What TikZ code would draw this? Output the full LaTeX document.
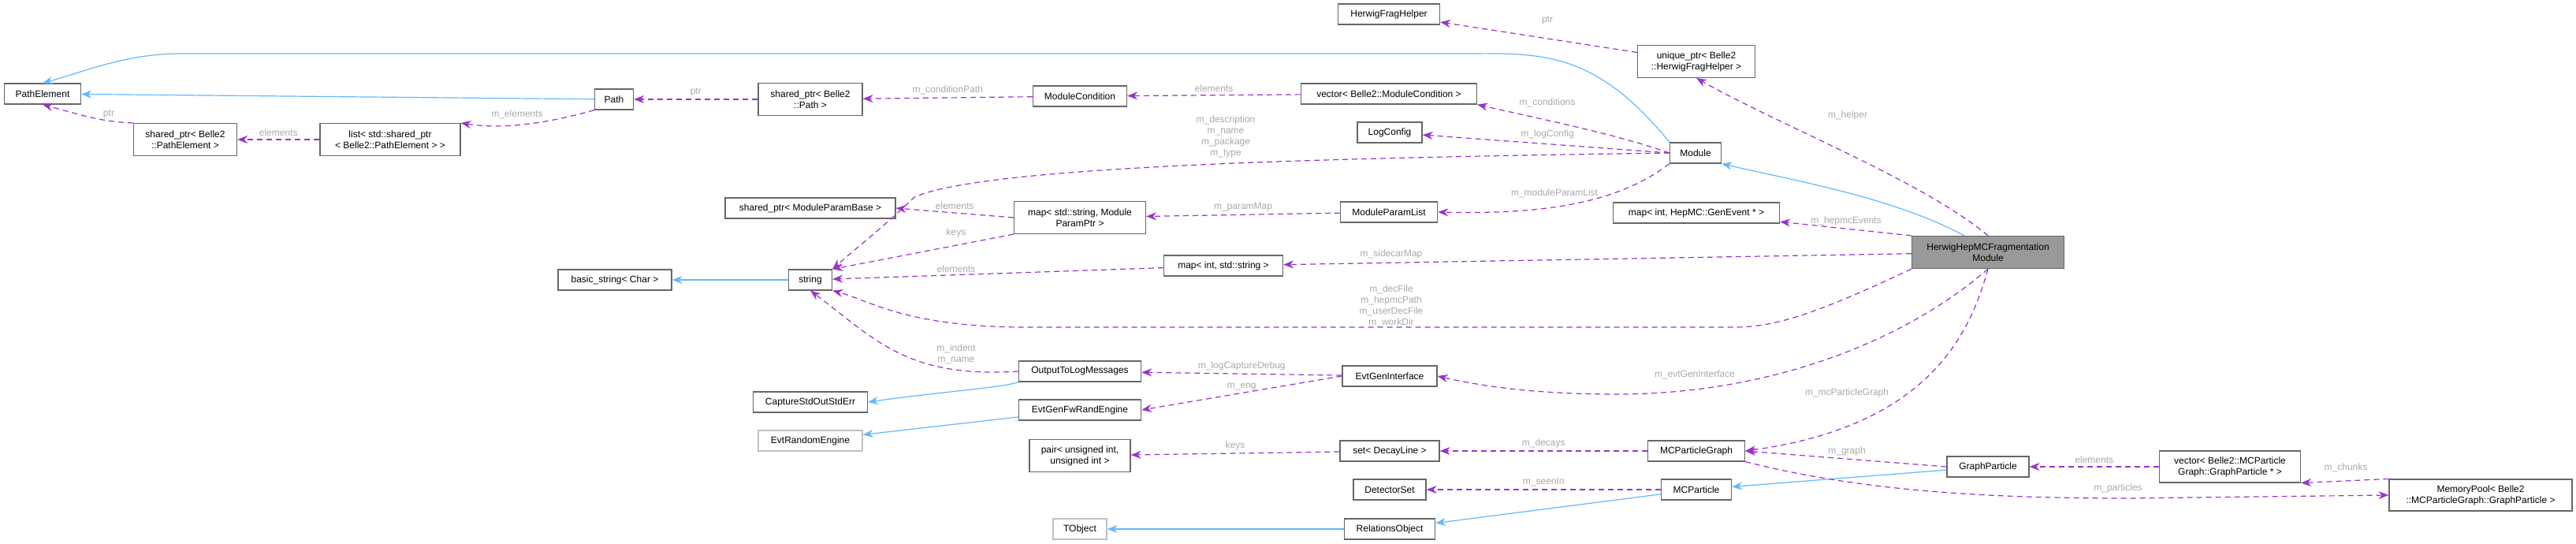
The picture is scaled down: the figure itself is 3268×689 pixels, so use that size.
\documentclass[tikz,border=0pt]{standalone}
\usepackage{fontspec}
\setmainfont{Liberation Sans}
\usetikzlibrary{arrows.meta}
\definecolor{inh}{HTML}{63B8FF}
\definecolor{use}{HTML}{9A32CD}
\definecolor{lbl}{HTML}{A8A8A8}
\definecolor{bd}{HTML}{666666}
\definecolor{gbd}{HTML}{BFBFBF}
\begin{document}
\begin{tikzpicture}[x=1pt,y=-1pt,
  every node/.style={font=\fontsize{12}{14}\selectfont},
  box/.style={draw=bd,line width=1.2pt,fill=white,align=center,inner sep=0pt,minimum height=26pt},
  gbox/.style={box,draw=gbd},
  inh/.style={draw=inh,line width=1.2pt,-{Stealth[length=13pt,width=10pt]}},
  use/.style={draw=use,line width=1.2pt,dash pattern=on 7pt off 5pt,-{Stealth[length=13pt,width=10pt]}},
  lb/.style={text=lbl,align=center}]
\useasboundingbox (0,0) rectangle (3268,689);
% nodes
\node[box,minimum width=97pt] (pe) at (54,119) {PathElement};
\node[box,minimum width=49pt] (path) at (779,126) {Path};
\node[box,minimum width=131pt,minimum height=41pt] (spe) at (235,177) {shared\_ptr< Belle2\\::PathElement >};
\node[box,minimum width=178pt,minimum height=41pt] (lst) at (495,177) {list< std::shared\_ptr\\< Belle2::PathElement > >};
\node[box,minimum width=132pt,minimum height=41pt] (spp) at (1028,126) {shared\_ptr< Belle2\\::Path >};
\node[box,minimum width=216pt] (spm) at (1028,264) {shared\_ptr< ModuleParamBase >};
\node[box,minimum width=144pt] (bs) at (780,355) {basic\_string< Char >};
\node[box,minimum width=55pt] (str) at (1028,355) {string};
\node[box,minimum width=145pt] (cap) at (1028,510) {CaptureStdOutStdErr};
\node[gbox,minimum width=132pt] (ere) at (1028,559) {EvtRandomEngine};
\node[box,minimum width=129pt] (hfh) at (1762,18) {HerwigFragHelper};
\node[box,minimum width=149pt,minimum height=41pt] (uph) at (2152,78) {unique\_ptr< Belle2\\::HerwigFragHelper >};
\node[box,minimum width=119pt] (mc) at (1370,122) {ModuleCondition};
\node[box,minimum width=223pt] (vmc) at (1762,119) {vector< Belle2::ModuleCondition >};
\node[box,minimum width=82pt] (lc) at (1763,168) {LogConfig};
\node[box,minimum width=65pt] (mod) at (2151,194) {Module};
\node[box,minimum width=167pt,minimum height=41pt] (mpp) at (1370,276) {map< std::string, Module\\ParamPtr >};
\node[box,minimum width=123pt] (mpl) at (1762,269) {ModuleParamList};
\node[box,minimum width=211pt] (mhe) at (2152,270) {map< int, HepMC::GenEvent * >};
\node[box,minimum width=151pt] (mis) at (1552,337) {map< int, std::string >};
\node[box,minimum width=155pt] (otl) at (1370,471) {OutputToLogMessages};
\node[box,minimum width=155pt] (efr) at (1370,520) {EvtGenFwRandEngine};
\node[box,minimum width=120pt] (egi) at (1763,477) {EvtGenInterface};
\node[box,minimum width=128pt,minimum height=41pt] (pr) at (1370,578) {pair< unsigned int,\\unsigned int >};
\node[box,minimum width=126pt] (sdl) at (1763,572) {set< DecayLine >};
\node[box,minimum width=123pt] (mcg) at (2152,572) {MCParticleGraph};
\node[box,minimum width=92pt] (ds) at (1763,621) {DetectorSet};
\node[box,minimum width=89pt] (mcp) at (2152,621) {MCParticle};
\node[gbox,minimum width=68pt] (tob) at (1370,671) {TObject};
\node[box,minimum width=115pt] (ro) at (1763,671) {RelationsObject};
\node[box,fill=black!40,minimum width=193pt,minimum height=41pt] (hh) at (2522,320) {HerwigHepMCFragmentation\\Module};
\node[box,minimum width=104pt] (gp) at (2522,592) {GraphParticle};
\node[box,minimum width=179pt,minimum height=40pt] (vgp) at (2829,592) {vector< Belle2::MCParticle\\Graph::GraphParticle * >};
\node[box,minimum width=232pt,minimum height=40pt] (mp) at (3147,628) {MemoryPool< Belle2\\::MCParticleGraph::GraphParticle >};
% inheritance
\draw[inh] (mod.north west) .. controls (2020,60) and (1950,68) .. (1850,68) -- (230,68) .. controls (160,68) and (110,90) .. (pe.north);
\draw[inh] (path) -- (pe);
\draw[inh] (hh.north) ++(-30,0) .. controls (2400,250) and (2280,230) .. (mod.south east);
\draw[inh] (otl.south west) .. controls (1270,492) and (1200,496) .. (cap.east);
\draw[inh] (efr) -- (ere);
\draw[inh] (mcp) -- (ro);
\draw[inh] (ro) -- (tob);
\draw[inh] (gp) -- (mcp);
\draw[inh] (str) -- (bs);
% usage
\draw[use] (spe.north west) .. controls (130,155) and (100,145) .. (pe.south);
\node[lb] at (138,145) {ptr};
\draw[use] (lst) -- (spe) node[lb,midway,above] {elements};
\draw[use] (path.south west) .. controls (700,155) and (640,165) .. (lst.north east);
\node[lb] at (656,145) {m\_elements};
\draw[use] (spp) -- (path) node[lb,midway,above] {ptr};
\draw[use] (mc) -- (spp) node[lb,midway,above] {m\_conditionPath};
\draw[use] (vmc) -- (mc) node[lb,midway,above] {elements};
\draw[use] (mod.west) .. controls (2050,170) and (1950,150) .. (vmc.south east);
\node[lb] at (1963,130) {m\_conditions};
\draw[use] (mod.west) -- (lc);
\node[lb] at (1963,170) {m\_logConfig};
\draw[use] (mod.west) .. controls (1700,200) and (1250,210) .. (1160,250) .. controls (1130,280) and (1080,320) .. (str.north east);
\node[lb] at (1555,173) {m\_description\\m\_name\\m\_package\\m\_type};
\draw[use] (mod.south west) .. controls (2050,260) and (1950,272) .. (mpl.east);
\node[lb] at (1972,245) {m\_moduleParamList};
\draw[use] (mpl) -- (mpp) node[lb,midway,above] {m\_paramMap};
\draw[use] (mpp.west) -- (spm.east) node[lb,midway,above] {elements};
\draw[use] (mpp.south west) -- (str.north east);
\node[lb] at (1213,295) {keys};
\draw[use] (mis) -- (str);
\node[lb] at (1213,341) {elements};
\draw[use] (hh.south west) .. controls (2300,400) and (2250,415) .. (2200,415) -- (1300,415) .. controls (1150,415) and (1100,380) .. (str.south east);
\node[lb] at (1765,388) {m\_decFile\\m\_hepmcPath\\m\_userDecFile\\m\_workDir};
\draw[use] (hh) -- (mis);
\node[lb] at (1765,322) {m\_sidecarMap};
\draw[use] (hh.north west) -- (mhe);
\node[lb] at (2342,280) {m\_hepmcEvents};
\draw[use] (hh.north) .. controls (2440,230) and (2260,160) .. (uph.south);
\node[lb] at (2344,146) {m\_helper};
\draw[use] (uph) -- (hfh);
\node[lb] at (1963,26) {ptr};
\draw[use] (otl.west) .. controls (1150,480) and (1110,430) .. (str.south) ;
\node[lb] at (1213,449) {m\_indent\\m\_name};
\draw[use] (egi) -- (otl) node[lb,midway,above] {m\_logCaptureDebug};
\draw[use] (egi.west) -- (efr.east) node[lb,midway,above] {m\_eng};
\draw[use] (hh.south) .. controls (2420,430) and (2250,500) .. (2050,500) .. controls (1950,500) and (1880,490) .. (egi.east);
\node[lb] at (2150,475) {m\_evtGenInterface};
\draw[use] (hh.south) .. controls (2500,420) and (2450,540) .. (mcg.east);
\node[lb] at (2343,498) {m\_mcParticleGraph};
\draw[use] (mcg) -- (sdl) node[lb,midway,above] {m\_decays};
\draw[use] (sdl) -- (pr) node[lb,midway,above] {keys};
\draw[use] (mcp) -- (ds) node[lb,midway,above] {m\_seenIn};
\draw[use] (gp.west) -- (mcg.east);
\node[lb] at (2343,572) {m\_graph};
\draw[use] (vgp) -- (gp) node[lb,midway,above] {elements};
\draw[use] (mp.north west) -- (vgp.south east);
\node[lb] at (2976,593) {m\_chunks};
\draw[use] (mcg.south east) .. controls (2350,620) and (2500,632) .. (2700,632) -- (mp.west);
\node[lb] at (2687,619) {m\_particles};
\end{tikzpicture}
\end{document}
